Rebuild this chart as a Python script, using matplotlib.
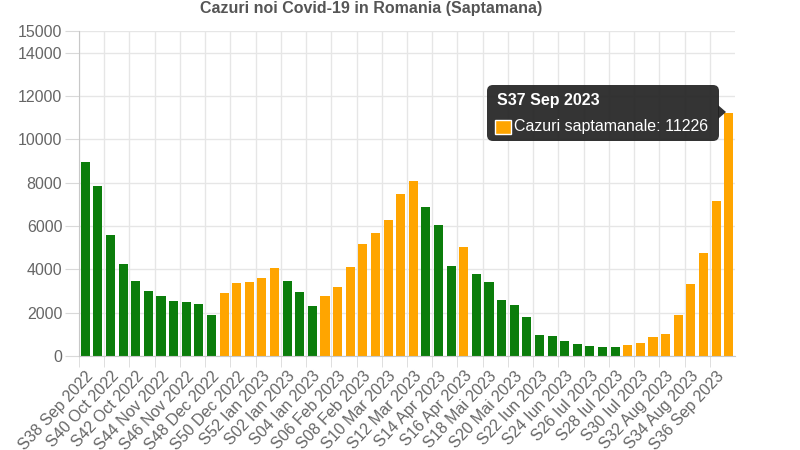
import numpy as np
import matplotlib.pyplot as plt
from matplotlib.patches import FancyBboxPatch, Polygon, Rectangle
from matplotlib.transforms import Affine2D

plt.rcParams['font.family'] = ['Liberation Sans', 'DejaVu Sans']

# weekly labels, S38 2022 -> S37 2023
weeks = ['S38 Sep 2022', 'S39 Sep 2022', 'S40 Oct 2022', 'S41 Oct 2022', 'S42 Oct 2022',
         'S43 Oct 2022', 'S44 Nov 2022', 'S45 Nov 2022', 'S46 Nov 2022', 'S47 Nov 2022',
         'S48 Dec 2022', 'S49 Dec 2022', 'S50 Dec 2022', 'S51 Dec 2022', 'S52 Ian 2023',
         'S01 Ian 2023', 'S02 Ian 2023', 'S03 Ian 2023', 'S04 Ian 2023', 'S05 Feb 2023',
         'S06 Feb 2023', 'S07 Feb 2023', 'S08 Feb 2023', 'S09 Mar 2023', 'S10 Mar 2023',
         'S11 Mar 2023', 'S12 Mar 2023', 'S13 Apr 2023', 'S14 Apr 2023', 'S15 Apr 2023',
         'S16 Apr 2023', 'S17 Apr 2023', 'S18 Mai 2023', 'S19 Mai 2023', 'S20 Mai 2023',
         'S21 Mai 2023', 'S22 Iun 2023', 'S23 Iun 2023', 'S24 Iun 2023', 'S25 Iun 2023',
         'S26 Iul 2023', 'S27 Iul 2023', 'S28 Iul 2023', 'S29 Iul 2023', 'S30 Iul 2023',
         'S31 Aug 2023', 'S32 Aug 2023', 'S33 Aug 2023', 'S34 Aug 2023', 'S35 Sep 2023',
         'S36 Sep 2023', 'S37 Sep 2023']

cases = [8940, 7860, 5600, 4245, 3460, 3015, 2785, 2525, 2475, 2385,
         1875, 2890, 3355, 3400, 3585, 4075, 3460, 2940, 2320, 2785,
         3185, 4120, 5185, 5675, 6290, 7475, 8060, 6860, 6030, 4170,
         5015, 3770, 3415, 2585, 2370, 1815, 970, 905, 710, 570,
         477, 430, 415, 508, 585, 877, 1015, 1875, 3305, 4735,
         7135, 11226]

fig = plt.figure(figsize=(8, 4.5), dpi=100)
ax = fig.add_axes([79/800, 94/450, 656/800, 325/450])

x = np.arange(len(cases))
# orange = cases went up vs previous week, green = went down
colors = ['#0b7d0b' if i == 0 or cases[i] < cases[i-1] else '#ffa500' for i in range(len(cases))]
ax.bar(x, cases, width=0.72, color=colors, zorder=2)

ax.set_xlim(-0.5, len(cases) - 0.5)
ax.set_ylim(0, 15000)
ax.set_yticks(list(range(0, 15000, 2000)) + [15000])
ax.set_xticks(x[::2])
ax.set_xticklabels(weeks[::2], rotation=47, ha='right', rotation_mode='anchor')
ax.set_xticks(x[::2] - 0.5, minor=True)

ax.tick_params(axis='x', which='major', length=0, pad=9, labelsize=11.5, labelcolor='#666666')
ax.tick_params(axis='x', which='minor', length=8, color='#d9d9d9')
ax.tick_params(axis='y', length=10, color='#d9d9d9', labelsize=11.5, labelcolor='#666666', pad=2)
ax.grid(which='minor', axis='x', color='#e6e6e6', lw=1, zorder=0)
ax.grid(which='major', axis='y', color='#e6e6e6', lw=1, zorder=0)
ax.set_axisbelow(True)
for s in ['top', 'right']:
    ax.spines[s].set_visible(False)
for s in ['left', 'bottom']:
    ax.spines[s].set_color('#c8c8c8')

fig.text(371/800, 1 - 9/450, 'Cazuri noi Covid-19 in Romania (Saptamana)', ha='center', va='center',
         fontsize=11.5, fontweight='bold', color='#555555')

# tooltip (pixel coords, origin top-left)
px = Affine2D().scale(1/800, -1/450).translate(0, 1) + fig.transFigure
box = FancyBboxPatch((487, 85), 232, 56, boxstyle='round,pad=0,rounding_size=6',
                     transform=px, facecolor='#222222', edgecolor='none', alpha=0.92, zorder=5)
fig.add_artist(box)
caret = Polygon([(718, 105), (726, 112), (718, 119)], closed=True, transform=px,
                facecolor='#222222', edgecolor='none', alpha=0.92, zorder=5)
fig.add_artist(caret)
fig.add_artist(Rectangle((495, 120), 16, 14, transform=px, facecolor='#ffa500',
                         edgecolor='white', lw=1, zorder=6))
fig.text(497, 100, weeks[-1], transform=px, ha='left', va='center', color='white',
         fontsize=11.5, fontweight='bold', zorder=7)
fig.text(514, 127, 'Cazuri saptamanale: %d' % cases[-1], transform=px, ha='left', va='center',
         color='white', fontsize=11.5, zorder=7)

fig.savefig('out.png', dpi=100)
